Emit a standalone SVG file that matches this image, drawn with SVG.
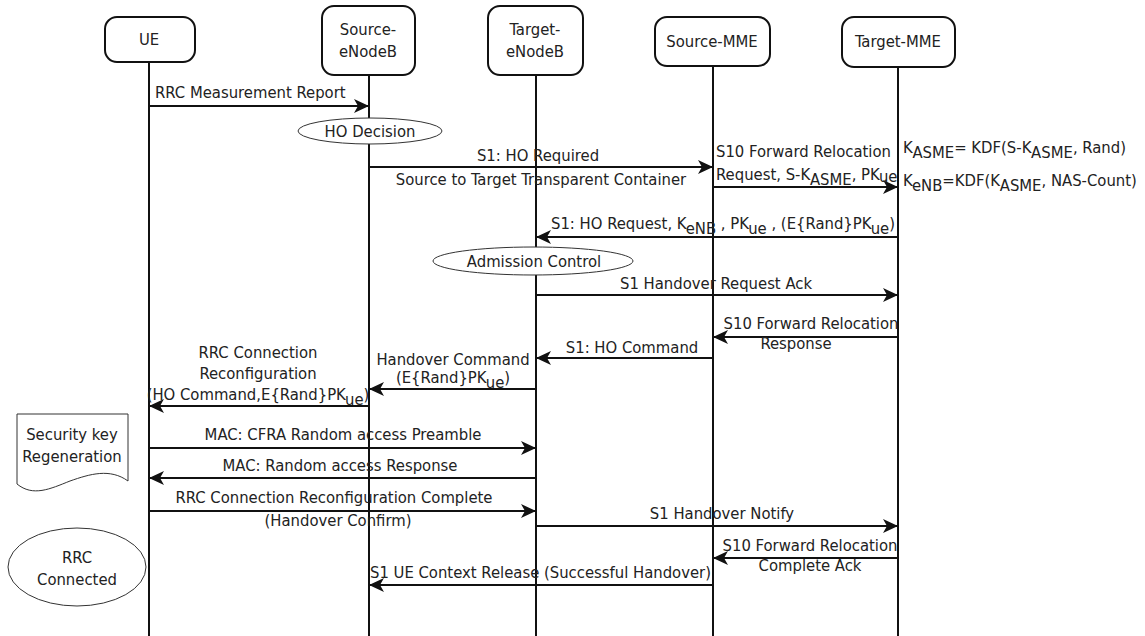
<svg xmlns="http://www.w3.org/2000/svg" width="1145" height="636" viewBox="0 0 1145 636">
<style>
text{font-family:"DejaVu Sans Condensed","DejaVu Sans",sans-serif;font-stretch:condensed;font-size:16.5px;fill:#222}
.c{text-anchor:middle}
.e{text-anchor:end}
.box{fill:#fff;stroke:#111;stroke-width:2}
.life{stroke:#111;stroke-width:2;fill:none}
.msg{stroke:#111;stroke-width:2;fill:none;marker-end:url(#ah)}
.note{fill:#fff;stroke:#333;stroke-width:1}
</style>
<defs>
<marker id="ah" markerUnits="userSpaceOnUse" markerWidth="16" markerHeight="14" refX="15" refY="7" orient="auto">
<path d="M0,0 L15,7 L0,14 L4,7 Z" fill="#111"/>
</marker>
</defs>
<g id="lifelines">
<line class="life" x1="149" y1="62" x2="149" y2="636"/>
<line class="life" x1="369" y1="75" x2="369" y2="636"/>
<line class="life" x1="536" y1="75" x2="536" y2="636"/>
<line class="life" x1="713" y1="66" x2="713" y2="636"/>
<line class="life" x1="898" y1="67" x2="898" y2="636"/>
</g>
<g id="UE"><rect class="box" x="105" y="17" width="90" height="45" rx="12"/><text class="c" x="149" y="45">UE</text></g>
<g id="SourceENB"><rect class="box" x="322" y="6" width="93" height="69" rx="12"/><text class="c" x="368" y="35">Source-</text><text class="c" x="368" y="57">eNodeB</text></g>
<g id="TargetENB"><rect class="box" x="488" y="6" width="95" height="69" rx="12"/><text class="c" x="535" y="35">Target-</text><text class="c" x="535" y="57">eNodeB</text></g>
<g id="SourceMME"><rect class="box" x="655" y="17" width="115" height="49" rx="12"/><text class="c" x="712" y="47">Source-MME</text></g>
<g id="TargetMME"><rect class="box" x="842" y="17" width="113" height="50" rx="12"/><text class="c" x="898" y="47">Target-MME</text></g>
<g id="HODecision"><ellipse class="note" cx="370" cy="131" rx="72" ry="13"/><text class="c" x="370" y="137">HO Decision</text></g>
<g id="AdmissionControl"><ellipse class="note" cx="533" cy="261" rx="100" ry="14"/><text class="c" x="534" y="267">Admission Control</text></g>
<g id="SecurityKey"><path class="note" d="M17,414 H128 V481 C110,468 90,474 70,481 C50,489 33,497 17,484 Z"/><text class="c" x="72" y="440">Security key</text><text class="c" x="72" y="462">Regeneration</text></g>
<g id="RRCConnected"><ellipse class="note" cx="77" cy="567" rx="69" ry="39"/><text class="c" x="77" y="563">RRC</text><text class="c" x="77" y="585">Connected</text></g>
<g id="KDF">
<text x="903" y="153">K<tspan dy="5">ASME</tspan><tspan dy="-5">= KDF(S-K</tspan><tspan dy="5">ASME</tspan><tspan dy="-5">, Rand)</tspan></text>
<text x="903" y="186">K<tspan dy="5">eNB</tspan><tspan dy="-5">=KDF(K</tspan><tspan dy="5">ASME</tspan><tspan dy="-5">, NAS-Count)</tspan></text>
</g>
<g id="connectors">
<line class="msg" x1="149" y1="106" x2="369" y2="106"/>
<line class="msg" x1="369" y1="167" x2="713" y2="167"/>
<line class="msg" x1="713" y1="187" x2="898" y2="187"/>
<line class="msg" x1="898" y1="237" x2="536" y2="237"/>
<line class="msg" x1="536" y1="295" x2="898" y2="295"/>
<line class="msg" x1="898" y1="337" x2="713" y2="337"/>
<line class="msg" x1="713" y1="358" x2="536" y2="358"/>
<line class="msg" x1="536" y1="389" x2="369" y2="389"/>
<line class="msg" x1="369" y1="406" x2="149" y2="406"/>
<line class="msg" x1="149" y1="448" x2="536" y2="448"/>
<line class="msg" x1="536" y1="478" x2="149" y2="478"/>
<line class="msg" x1="149" y1="511" x2="536" y2="511"/>
<line class="msg" x1="536" y1="526" x2="898" y2="526"/>
<line class="msg" x1="898" y1="558" x2="713" y2="558"/>
<line class="msg" x1="713" y1="585" x2="369" y2="585"/>
</g>
<g id="labels">
<text x="155" y="98">RRC Measurement Report</text>
<text class="c" x="538" y="161">S1: HO Required</text>
<text class="c" x="541" y="185">Source to Target Transparent Container</text>
<text x="716" y="157">S10 Forward Relocation</text>
<text x="716" y="180">Request, S-K<tspan dy="5">ASME</tspan><tspan dy="-5">, PK</tspan><tspan dy="2">ue</tspan></text>
<text x="551" y="229">S1: HO Request, K<tspan dy="5">eNB</tspan><tspan dy="-5"> , PK</tspan><tspan dy="5">ue</tspan><tspan dy="-5"> , (E{Rand}PK</tspan><tspan dy="5">ue</tspan><tspan dy="-5">)</tspan></text>
<text class="c" x="716" y="289">S1 Handover Request Ack</text>
<text class="c" x="811" y="329">S10 Forward Relocation</text>
<text class="c" x="796" y="349">Response</text>
<text class="c" x="632" y="353">S1: HO Command</text>
<text class="c" x="453" y="365">Handover Command</text>
<text class="c" x="453" y="383">(E{Rand}PK<tspan dy="5">ue</tspan><tspan dy="-5">)</tspan></text>
<text class="c" x="258" y="358">RRC Connection</text>
<text class="c" x="258" y="379">Reconfiguration</text>
<text class="c" x="258" y="400">(HO Command,E{Rand}PK<tspan dy="5">ue</tspan><tspan dy="-5">)</tspan></text>
<text class="c" x="343" y="440">MAC: CFRA Random access Preamble</text>
<text class="c" x="340" y="471">MAC: Random access Response</text>
<text class="c" x="334" y="503">RRC Connection Reconfiguration Complete</text>
<text class="c" x="338" y="526">(Handover Confirm)</text>
<text class="c" x="722" y="519">S1 Handover Notify</text>
<text class="c" x="810" y="551">S10 Forward Relocation</text>
<text class="c" x="810" y="571">Complete Ack</text>
<text class="e" x="711" y="578">S1 UE Context Release (Successful Handover)</text>
</g>
</svg>
